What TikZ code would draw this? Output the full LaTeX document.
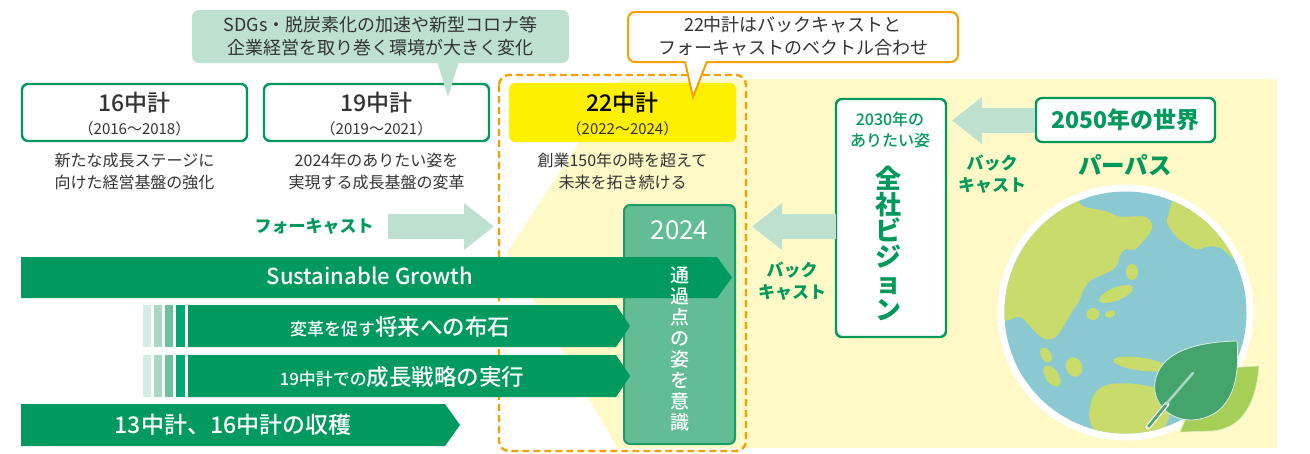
\documentclass[tikz,border=0pt]{standalone}
\usepackage{fontspec}
\setmainfont{Noto Sans CJK JP}
\newfontfamily\jpmed{Noto Sans CJK JP Medium}
\usetikzlibrary{arrows.meta,calc}

\definecolor{bargreen}{RGB}{0,154,95}
\definecolor{linegreen}{RGB}{0,153,92}
\definecolor{mint}{RGB}{189,225,206}
\definecolor{passgreen}{RGB}{98,188,148}
\definecolor{passedge}{RGB}{30,156,102}
\definecolor{planyellow}{RGB}{255,240,0}
\definecolor{bgyellow}{RGB}{254,249,199}
\definecolor{accent}{RGB}{245,160,0}
\definecolor{textgray}{RGB}{51,51,51}
\definecolor{sea}{RGB}{138,201,210}
\definecolor{land}{RGB}{201,220,107}
\definecolor{leafdark}{RGB}{68,164,108}
\definecolor{leaflight}{RGB}{166,207,87}
\definecolor{stripeA}{RGB}{212,237,226}
\definecolor{stripeB}{RGB}{169,216,195}
\definecolor{stripeC}{RGB}{108,194,156}
\definecolor{stripeD}{RGB}{0,168,116}

\newcommand\fsz[2]{\fontsize{#1}{#2}\selectfont}

\tikzset{
  planbox/.style={draw=linegreen, line width=2.4pt, fill=white, rounded corners=6pt},
  plantitle/.style={text=textgray, font=\jpmed\fsz{23}{26}},
  planyears/.style={text=textgray, font=\fsz{15}{17}},
  plandesc/.style={text=textgray, align=center, font=\fsz{16}{22}},
  bartext/.style={text=white, font=\jpmed\fsz{22}{24}},
  greenlabel/.style={text=linegreen, align=center, font=\bfseries\fsz{17}{22}},
  blockarrow/.style={draw=mint, line width=25pt, -{Triangle[width=45pt,length=30pt]}},
}

\begin{document}
\begin{tikzpicture}[x=1pt,y=-1pt, every node/.style={inner sep=0pt, outer sep=0pt}]
\useasboundingbox (0,0) rectangle (1310,453);

% pale backdrop behind the 2030/2050 side, narrowing into the 22 plan
\fill[bgyellow] (620,79) -- (1277,79) -- (1277,448) -- (617,448) -- (507,253) -- cycle;

% dashed frame around the 22 plan column
\draw[accent, line width=2.4pt, dash pattern=on 7pt off 4pt, rounded corners=10pt]
  (499,75) rectangle (746,451);

% plan boxes
\draw[planbox] (22,84) rectangle (247,141);
\node[plantitle] (t16) at (134.5,103) {16中計};
\node[planyears] (y16) at (134.5,129) {（2016〜2018）};
\node[plandesc] (d16) at (134.5,171) {新たな成長ステージに\\向けた経営基盤の強化};

\draw[planbox] (264,84) rectangle (489,141);
\node[plantitle] (t19) at (376.5,103) {19中計};
\node[planyears] (y19) at (376.5,129) {（2019〜2021）};
\node[plandesc] (d19) at (376.5,171) {2024年のありたい姿を\\実現する成長基盤の変革};

\fill[planyellow, rounded corners=6pt] (509,83) rectangle (736,142);
\node[plantitle, text=black] (t22) at (622.5,103) {22中計};
\node[planyears] (y22) at (622.5,129) {（2022〜2024）};
\node[plandesc] (d22) at (622.5,171) {創業150年の時を超えて\\未来を拓き続ける};

% callout on the changing environment
\fill[mint, rounded corners=7pt] (192,10) rectangle (569,63);
\fill[mint] (437,61) -- (448,97) -- (459,61) -- cycle;
\node[text=textgray, align=center, font=\fsz{18}{23}] (env) at (380.5,36)
  {SDGs・脱炭素化の加速や新型コロナ等\\企業経営を取り巻く環境が大きく変化};

% callout on the 22 plan
\draw[accent, line width=2pt, fill=white, rounded corners=7pt] (628,12) rectangle (958,62);
\fill[white] (684,59.5) -- (708,59.5) -- (693,97) -- cycle;
\draw[accent, line width=2pt, line join=miter] (685,61.5) -- (693,97) -- (707,61.5);
\node[text=textgray, align=center, font=\fsz{18}{23}] (vec) at (793,36)
  {22中計はバックキャストと\\フォーキャストのベクトル合わせ};

% forecast arrow
\node[greenlabel] (fc) at (314,226) {フォーキャスト};
\coordinate (fcA) at (388,226.5);
\coordinate (fcB) at (494,226.5);
\draw[blockarrow] (fcA) -- (fcB);

% 2024 milestone column
\draw[fill=passgreen, draw=passedge, line width=2pt, rounded corners=6pt] (624,205) rectangle (735,444);
\node[text=white, font=\fsz{26}{28}] (y2024) at (679.5,230) {2024};

% growth bars
\fill[bargreen] (21,257) -- (717,257) -- (732,277.5) -- (717,298) -- (21,298) -- cycle;
\node[bartext] (sg) at (370,276) {Sustainable Growth};

\foreach \y in {305,355}{
  \fill[stripeA] (143,\y) rectangle (151,\y+42);
  \fill[stripeB] (153.5,\y) rectangle (162,\y+42);
  \fill[stripeC] (165,\y) rectangle (173,\y+42);
  \fill[stripeD] (176,\y) rectangle (184.5,\y+42);
  \fill[bargreen] (188,\y) -- (616,\y) -- (630,\y+21) -- (616,\y+42) -- (188,\y+42) -- cycle;
}
\node[text=white, font=\jpmed] (b2) at (400,327)
  {{\fsz{17}{20}変革を促す}{\fsz{22.5}{24}将来への布石}};
\node[text=white, font=\jpmed] (b3) at (402,377)
  {{\fsz{17}{20}19中計での}{\fsz{22.5}{24}成長戦略の実行}};

\fill[bargreen] (21,404) -- (445,404) -- (460,425) -- (445,446) -- (21,446) -- cycle;
\node[bartext, font=\jpmed\fsz{23}{25}] (harvest) at (233,425) {13中計、16中計の収穫};

\node[text=white, align=center, font=\jpmed\fsz{19}{21.1}] (pass) at (680,349)
  {通\\過\\点\\の\\姿\\を\\意\\識};

% company vision box
\draw[planbox] (836,99) rectangle (946,337);
\node[text=linegreen, align=center, font=\jpmed\fsz{16}{21}] (v2030) at (890,130) {2030年の\\ありたい姿};
\node[text=linegreen, align=center, font=\bfseries\fsz{26}{26.2}] (vision) at (888,243)
  {全\\社\\ビ\\ジ\\ョ\\ン};
\coordinate (visionW) at (836,226.5);
\coordinate (visionE) at (946,120.5);

% 2050 world and purpose
\draw[planbox] (1036,98) rectangle (1215,142);
\node[text=linegreen, font=\bfseries\fsz{23}{25}] (world) at (1125.5,120) {2050年の世界};
\coordinate (worldW) at (1035,120.5);
\node[text=linegreen, font=\bfseries\fsz{23.5}{26}] (purpose) at (1125,165) {パーパス};

% backcast arrows
\draw[blockarrow] (worldW) -- ([xshift=6pt]visionE);
\node[greenlabel] (bc1) at (992,174) {バック\\キャスト};
\coordinate (bcTip) at (752,226.5);
\draw[blockarrow] (visionW) -- (bcTip);
\node[greenlabel] (bc2) at (792,281) {バック\\キャスト};

% globe
\fill[white] (1125.5,312.5) circle (128);
\fill[sea] (1125.5,312.5) circle (121);
\begin{scope}
  \clip (1125.5,312.5) circle (121);
  \fill[land, rounded corners=5pt] (985,190) -- (1076,195) -- (1080,206) -- (1110,212) -- (1117,217)
    -- (1147,216) -- (1154,227) -- (1147,237) -- (1138,247) -- (1133,252) -- (1127,247)
    -- (1120,254) -- (1117,267) -- (1107,273) -- (1090,280) -- (1083,290) -- (1080,300)
    -- (1073,310) -- (1063,327) -- (1057,337) -- (1047,341) -- (1037,334) -- (1027,323)
    -- (1020,315) -- (1010,320) -- (985,325) -- cycle;
  \fill[land, rounded corners=5pt] (1170,185) -- (1173,198) -- (1166,223) -- (1177,238)
    -- (1197,251) -- (1207,246) -- (1220,247) -- (1233,258) -- (1245,272) -- (1270,272)
    -- (1270,185) -- cycle;
  \fill[land] (1132,272) ellipse (6 and 8);
  \fill[land, rotate around={22:(1116,294)}] (1116,294) ellipse (18 and 6.5);
  \fill[land] (1093,314) ellipse (6.5 and 6);
  \fill[land, rotate around={15:(1110,314)}] (1110,314) ellipse (5.5 and 3.5);
  \fill[land, rotate around={-60:(1046,355)}] (1046,355) ellipse (8 and 5);
  \fill[land, rotate around={-55:(1052,376)}] (1052,376) ellipse (12 and 6.5);
  \fill[land, rotate around={-70:(1074,367)}] (1074,367) ellipse (10 and 8);
  \fill[land, rotate around={-8:(1140,364)}] (1140,364) ellipse (27 and 6.5);
  \fill[land, rounded corners=8pt] (1092,395) -- (1105,384) -- (1130,383) -- (1160,388)
    -- (1172,410) -- (1160,440) -- (1100,440) -- (1088,420) -- cycle;
\end{scope}

% leaves
\fill[leaflight, draw=white!60!leaflight, line width=0.6pt] (1226,368) -- (1259,366)
  .. controls (1256,400) and (1245,428) .. (1212,431) -- (1180,432) -- (1186,418) -- cycle;
\fill[leafdark, draw=white!80!leafdark, line width=0.8pt] (1237,341)
  .. controls (1195,342) and (1160,352) .. (1155,382)
  .. controls (1152,400) and (1166,420) .. (1192,420)
  .. controls (1226,418) and (1241,390) .. (1237,341) -- cycle;
\draw[white, line width=5pt, line cap=round] (1148,427) -- (1167,404);
\draw[leafdark, line width=2.6pt, line cap=round] (1148.5,426.5) -- (1166,405);
\draw[white!55!leafdark, line width=2.6pt, line cap=round] (1166,404) -- (1193,373);
\end{tikzpicture}
\end{document}
